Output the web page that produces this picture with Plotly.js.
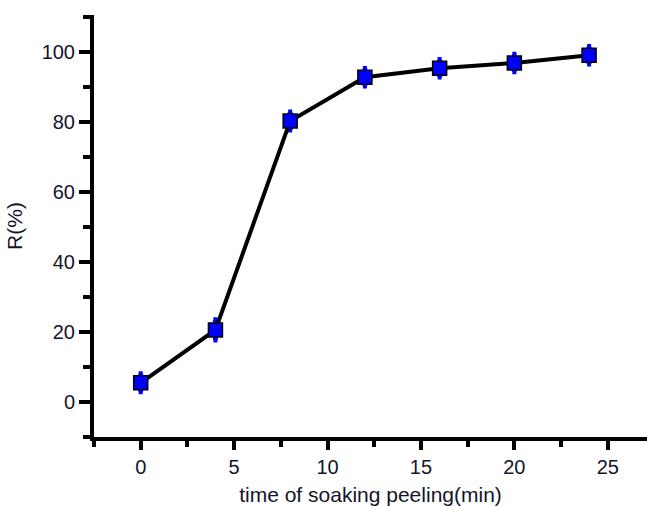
<!DOCTYPE html>
<html>
<head>
<meta charset="utf-8">
<script src="https://cdn.plot.ly/plotly-3.0.1.min.js"></script>
<style>html,body{margin:0;padding:0;background:#fff;}#chart{width:647px;height:506px;}</style>
</head>
<body>
<div id="chart"></div>
<script>
const timeMin = [0, 4, 8, 12, 16, 20, 24];
const rPercent = [5.5, 20.6, 80.3, 92.8, 95.4, 96.9, 99.1];
const rError = [2.6, 2.9, 2.6, 2.5, 2.5, 2.5, 2.5];
const xTickVals = [0, 5, 10, 15, 20, 25];
const yTickVals = [0, 20, 40, 60, 80, 100];

const errTrace = {
  x: timeMin,
  y: rPercent,
  type: 'scatter',
  mode: 'lines',
  line: {color: '#000', width: 4},
  error_y: {type: 'data', array: rError, visible: true, color: '#0000ff', thickness: 5, width: 2},
  cliponaxis: false,
  hoverinfo: 'skip'
};
const markerTrace = {
  x: timeMin,
  y: rPercent,
  type: 'scatter',
  mode: 'markers',
  marker: {symbol: 'square', size: 14, color: '#0000ff', line: {color: '#000', width: 1.5}},
  cliponaxis: false,
  hoverinfo: 'skip'
};

const tickFont = {family: 'Liberation Sans, Arial, sans-serif', size: 20, color: '#14142a'};
const layout = {
  width: 647, height: 506,
  margin: {l: 94, r: 0, t: 15, b: 69, pad: 0},
  paper_bgcolor: '#fff', plot_bgcolor: '#fff',
  showlegend: false,
  xaxis: {
    range: [-2.5, 27.1],
    tickmode: 'array', tickvals: xTickVals, ticktext: xTickVals.map(String),
    ticks: 'outside', ticklen: 9, tickwidth: 4, tickcolor: '#000',
    minor: {dtick: 2.5, tick0: 0, ticks: 'outside', ticklen: 6, tickwidth: 4, tickcolor: '#000'},
    showline: true, linewidth: 4, linecolor: '#000',
    showgrid: false, zeroline: false,
    tickfont: tickFont,
    title: {text: 'time of soaking peeling(min)', font: {family: 'Liberation Sans, Arial, sans-serif', size: 21, color: '#14142a'}, standoff: 12}
  },
  yaxis: {
    range: [-10, 110.6],
    tickmode: 'array', tickvals: yTickVals, ticktext: yTickVals.map(String),
    ticks: 'outside', ticklen: 11, tickwidth: 4, tickcolor: '#000',
    minor: {dtick: 10, tick0: 0, ticks: 'outside', ticklen: 7, tickwidth: 4, tickcolor: '#000'},
    showline: true, linewidth: 4, linecolor: '#000',
    showgrid: false, zeroline: false,
    tickfont: tickFont,
    title: {text: 'R(%)', font: {family: 'Liberation Sans, Arial, sans-serif', size: 21, color: '#14142a'}, standoff: 14}
  }
};

Plotly.newPlot('chart', [errTrace, markerTrace], layout, {staticPlot: true, displayModeBar: false});
</script>
</body>
</html>
